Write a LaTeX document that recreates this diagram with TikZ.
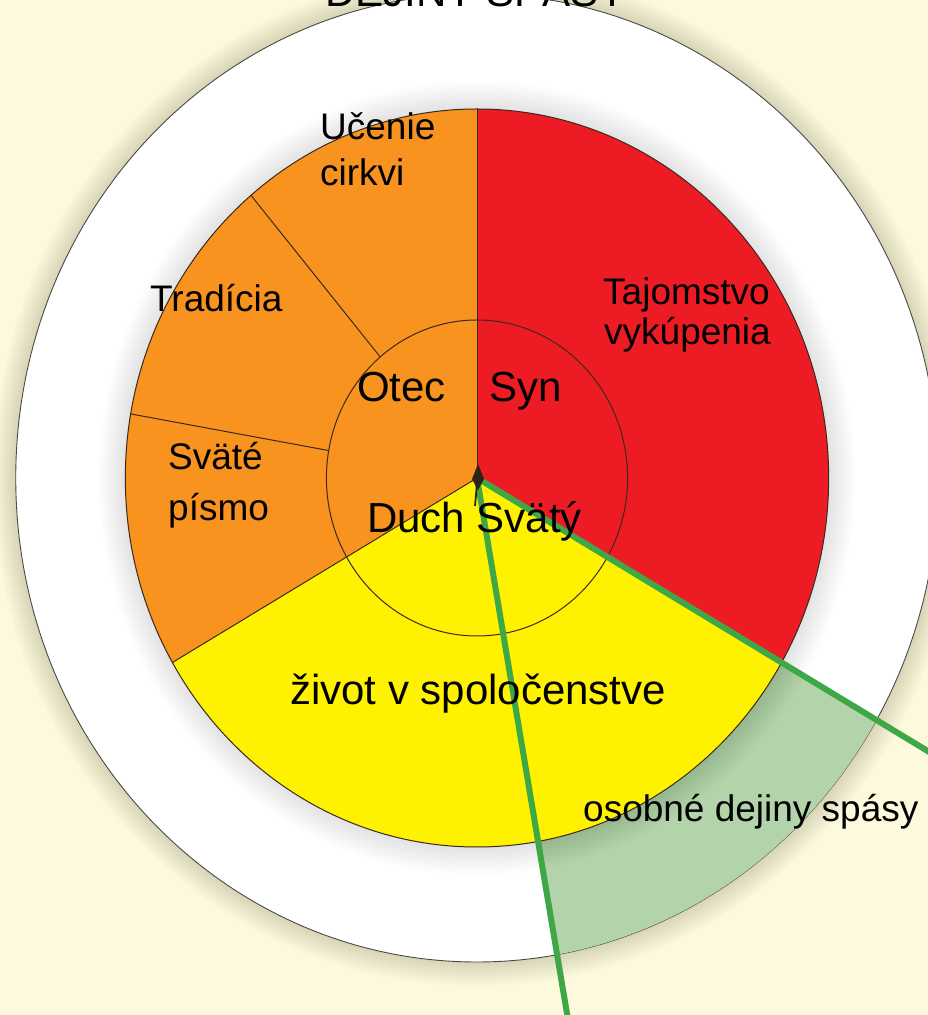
\documentclass[tikz,border=0pt]{standalone}
\usepackage{fontspec}
\setmainfont{Liberation Sans}
\definecolor{dsCream}{HTML}{FDF9DC}
\definecolor{dsRim}{HTML}{4A4A44}
\definecolor{dsInk}{HTML}{3B2A1C}
\definecolor{dsOrange}{HTML}{F7931E}
\definecolor{dsRed}{HTML}{ED1C24}
\definecolor{dsYellow}{HTML}{FFF200}
\definecolor{dsGreen}{HTML}{3FA846}
\definecolor{dsSage}{HTML}{B3D4AA}

\begin{document}
\begin{tikzpicture}[
  x=1pt, y=1pt,
  ds line/.style={draw=dsInk,line width=1pt},
  ds rim/.style={draw=dsRim,line width=.9pt},
  ds green/.style={draw=dsGreen,line width=6pt,line cap=butt},
  ds small/.style={font=\fontsize{37}{41}\selectfont,inner sep=0pt,anchor=base west},
  ds big/.style={font=\fontsize{42}{46}\selectfont,inner sep=0pt,anchor=base west}
]
\useasboundingbox (0,0) rectangle (928,1015);
\clip (0,0) rectangle (928,1015);
\fill[dsCream] (0,0) rectangle (928,1015);
\coordinate (C) at (477,537);

% Radii of the three rings (before the horizontal squeeze).
\def\rOut{484}
\def\rPie{369}
\def\rIn{158}

\begin{scope}[shift={(C)},xscale=.953]
  % Soft shadow round the white disc.
  \foreach \k in {2,4,...,24}
    \fill[black,opacity=.01] (0,0) circle[radius=\rOut+\k];
  \filldraw[fill=white,ds rim] (0,0) circle[radius=\rOut];

  % Personal history band between the two green rays.
  \fill[dsSage] (-80:\rPie) arc[start angle=-80,end angle=-30,radius=\rPie]
    -- (-30:\rOut) arc[start angle=-30,end angle=-80,radius=\rOut] -- cycle;

  % Soft shadow round the pie.
  \foreach \k in {2,4,...,28}
    \fill[black,opacity=.008] (0,0) circle[radius=\rPie+\k];

  % Three sectors.
  \fill[dsRed] (0,0) -- (90:\rPie) arc[start angle=90,end angle=-30,radius=\rPie] -- cycle;
  \fill[dsYellow] (0,0) -- (-30:\rPie) arc[start angle=-30,end angle=-150,radius=\rPie] -- cycle;
  \fill[dsOrange] (0,0) -- (210:\rPie) arc[start angle=210,end angle=90,radius=\rPie] -- cycle;

  % Outlines and dividers.
  \draw[ds line] (0,0) circle[radius=\rPie];
  \draw[ds line] (0,0) circle[radius=\rIn];
  \draw[ds line] (0,0) -- (90:\rPie);
  \draw[ds line] (0,0) -- (210:\rPie);
  \foreach \a in {130,170}
    \draw[ds line] (\a:\rIn) -- (\a:\rPie);

  \coordinate (endA) at (-30:720);
  \coordinate (endB) at (-80:720);
\end{scope}

% Green rays from the centre.
\draw[ds green] (C) -- (endA);
\draw[ds green] (C) -- (endB);

% Small dark marker at the centre.
\begin{scope}[shift={(C)}]
  \fill[dsInk!80!black] (1,14) -- (7,-1) -- (1,-12) -- (-5,-1) -- cycle;
  \draw[dsInk!80!black,line width=1.8pt] (0,-6) -- (-2,-28);
\end{scope}

% Labels.
\node[ds big,anchor=base] (title) at (476,1008) {DEJINY SPÁSY};
\node[ds small] (ucenieA) at (320,875) {Učenie};
\node[ds small] (ucenieB) at (320,829) {cirkvi};
\node[ds small] (tradicia) at (150,703) {Tradícia};
\node[ds small] (svateA) at (168,545) {Sväté};
\node[ds small] (svateB) at (168,494) {písmo};
\node[ds small] (tajomA) at (603,710) {Tajomstvo};
\node[ds small] (tajomB) at (604,670) {vykúpenia};
\node[ds big] (otec) at (357,613) {Otec};
\node[ds big] (syn) at (489,613) {Syn};
\node[ds big] (duch) at (367,482) {Duch Svätý};
\node[ds big] (zivot) at (290,310) {život v spoločenstve};
\node[ds small] (osobne) at (583,193) {osobné dejiny spásy};
\end{tikzpicture}
\end{document}
